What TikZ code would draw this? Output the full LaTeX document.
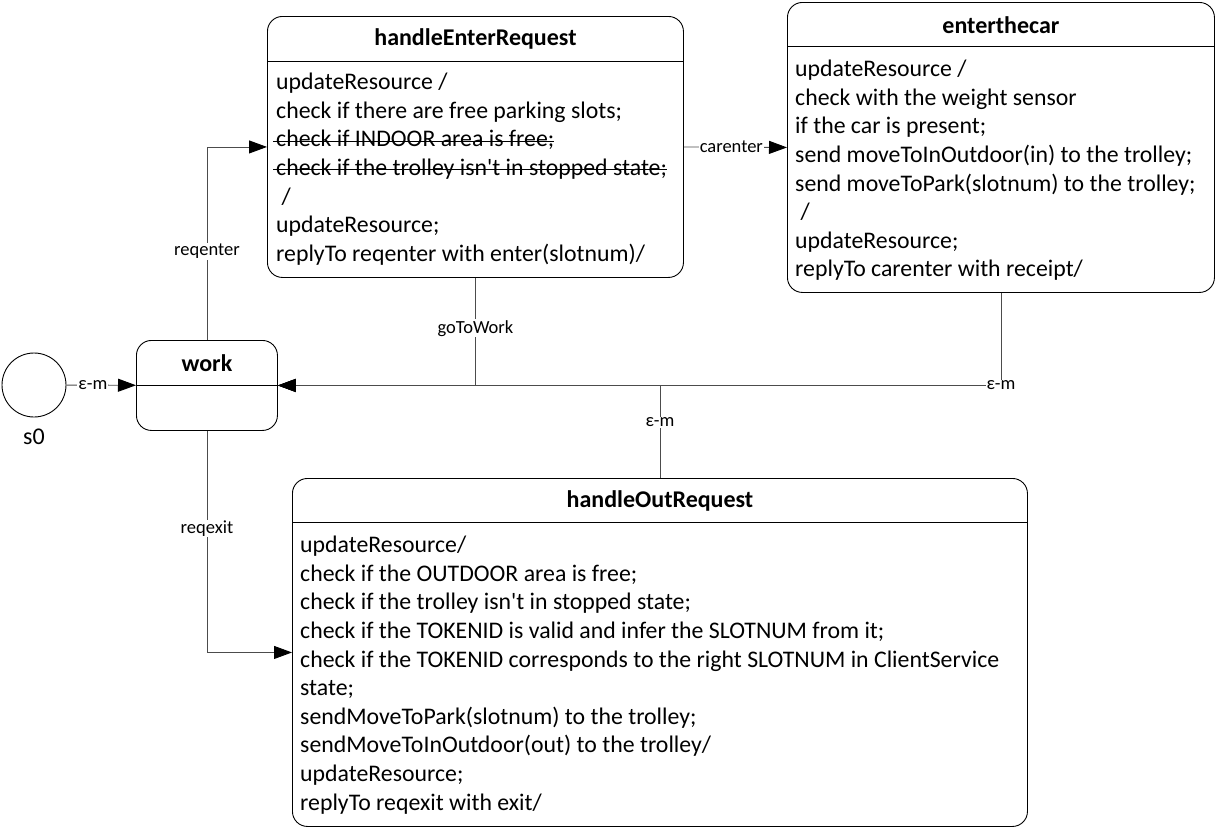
\documentclass[tikz,border=0pt]{standalone}
\usepackage{fontspec}
\setmainfont{Carlito}
\usetikzlibrary{arrows.meta,calc}
\tikzset{>={Triangle[length=18pt,width=13pt,color=black]}}
\newlength\strikelen
\newcommand{\strikeit}[1]{\settowidth{\strikelen}{#1}\rlap{\kern-3pt\rule[0.23em]{\dimexpr\strikelen+3pt\relax}{0.9pt}}#1}

\begin{document}
\begin{tikzpicture}[x=1pt,y=-1pt,
  state/.style={draw,rounded corners=15pt,line width=0.9pt,anchor=north west,inner sep=0pt},
  title/.style={font=\bfseries\fontsize{24}{28}\selectfont},
  body/.style={anchor=north west,align=left,inner sep=0pt,font=\fontsize{23.8}{28.6}\selectfont},
  conn/.style={draw=black!70,line width=0.9pt},
  lbl/.style={fill=white,inner sep=1pt,font=\fontsize{18.5}{20}\selectfont}]

\useasboundingbox (0,0) rectangle (1216,830);

% states
\node[draw,circle,minimum size=64pt,line width=0.9pt,
  label={[label distance=8pt,font=\fontsize{24}{28}\selectfont]below:s0}] (s0) at (34,385) {};
\node[state,minimum width=141pt,minimum height=90pt] (work) at (136,340) {};
\node[state,minimum width=416pt,minimum height=261pt] (enterreq) at (267,16) {};
\node[state,minimum width=427pt,minimum height=290pt] (entercar) at (787,2) {};
\node[state,minimum width=735pt,minimum height=348pt] (outreq) at (292,478) {};

% header lines
\draw[line width=0.9pt] ($(work.north west)+(0,45)$) -- ($(work.north east)+(0,45)$);
\draw[line width=0.9pt] ($(enterreq.north west)+(0,45)$) -- ($(enterreq.north east)+(0,45)$);
\draw[line width=0.9pt] ($(entercar.north west)+(0,44)$) -- ($(entercar.north east)+(0,44)$);
\draw[line width=0.9pt] ($(outreq.north west)+(0,44)$) -- ($(outreq.north east)+(0,44)$);

% titles
\node[title] (worktitle) at ($(work.north)+(0,23)$) {work};
\node[title] (enterreqtitle) at ($(enterreq.north)+(0,23)$) {handleEnterRequest};
\node[title] (entercartitle) at ($(entercar.north)+(0,23)$) {enterthecar};
\node[title] (outreqtitle) at ($(outreq.north)+(0,23)$) {handleOutRequest};

% bodies
\node[body] (enterreqbody) at ($(enterreq.north west)+(9,57)$) {updateResource /\\
check if there are free parking slots;\\
\strikeit{check if INDOOR area is free;}\\
\strikeit{check if the trolley isn\textquotesingle t in stopped state;}\\
\ /\\
updateResource;\\
replyTo reqenter with enter(slotnum)/};
\node[body] (entercarbody) at ($(entercar.north west)+(8,58)$) {updateResource /\\
check with the weight sensor\\
if the car is present;\\
send moveToInOutdoor(in) to the trolley;\\
send moveToPark(slotnum) to the trolley;\\
\ /\\
updateResource;\\
replyTo carenter with receipt/};
\node[body] (outreqbody) at ($(outreq.north west)+(8,58)$) {updateResource/\\
check if the OUTDOOR area is free;\\
check if the trolley isn\textquotesingle t in stopped state;\\
check if the TOKENID is valid and infer the SLOTNUM from it;\\
check if the TOKENID corresponds to the right SLOTNUM in ClientService\\
state;\\
sendMoveToPark(slotnum) to the trolley;\\
sendMoveToInOutdoor(out) to the trolley/\\
updateResource;\\
replyTo reqexit with exit/};

% transitions
\draw[conn,->] (s0) -- node[lbl,pos=0.38]{ε-m} (work);
\draw[conn,->] (work.north) |- node[lbl,pos=0.23]{reqenter} (enterreq.west);
\draw[conn,->] (enterreq.east) -- node[lbl,pos=0.46]{carenter} (entercar.west);
\draw[conn,->] (work.south) |- node[lbl,pos=0.22]{reqexit} (outreq.west);
\draw[conn,->] (enterreq.south) |- node[lbl,pos=0.235]{goToWork} (work.east);
\draw[conn,->] (entercar.south) |- node[lbl,pos=0.5]{ε-m} (work.east);
\draw[conn,->] (outreq.north) |- node[lbl,pos=0.3]{ε-m} (work.east);
\end{tikzpicture}
\end{document}
